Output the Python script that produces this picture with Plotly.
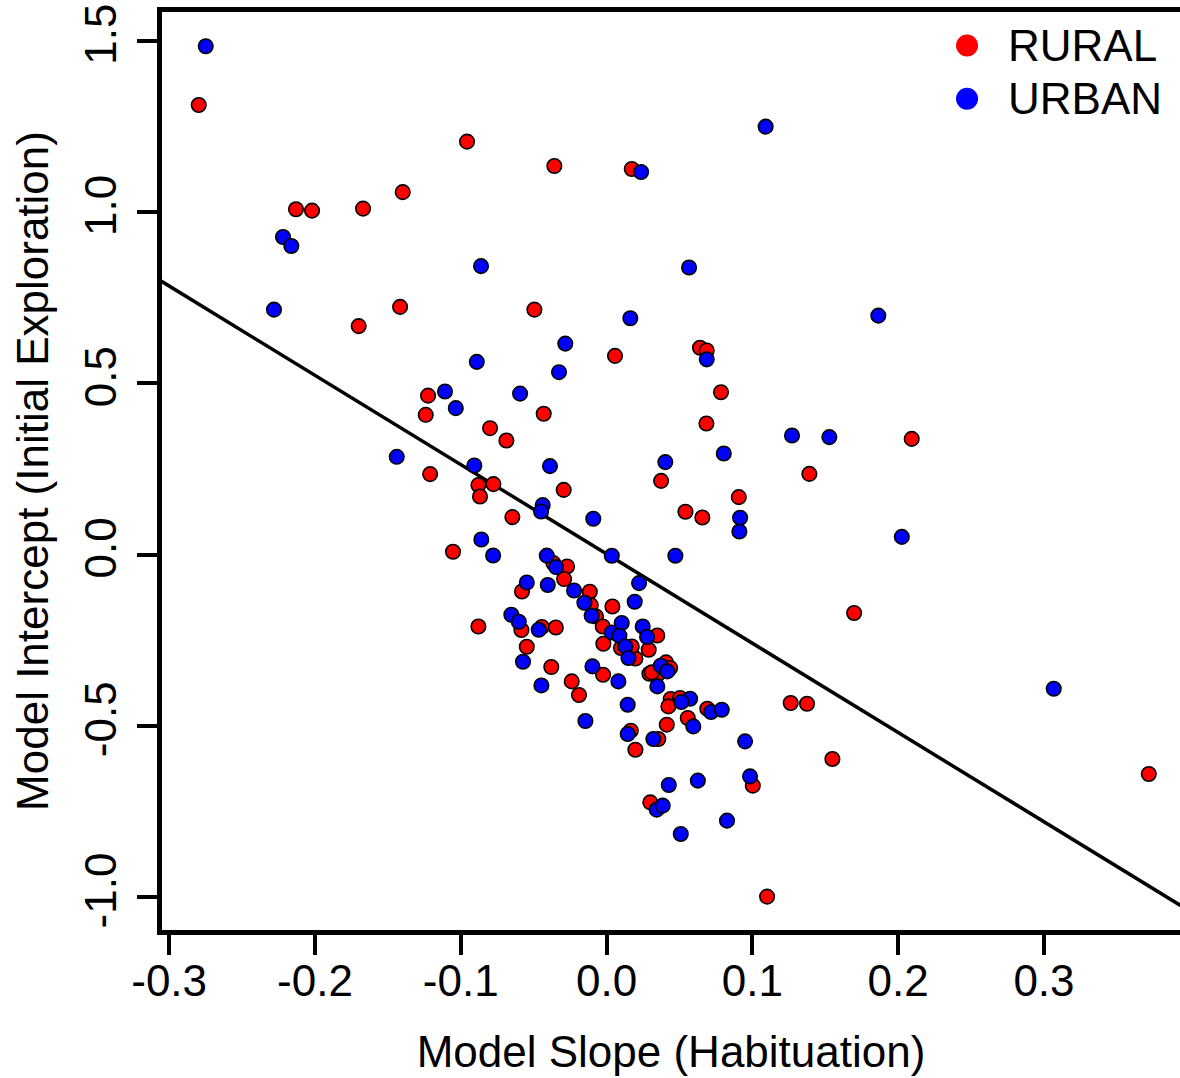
import plotly.graph_objects as go

# ---- data ----
rural_x = [-0.2797, -0.2130, -0.2020, -0.1670, -0.1398, -0.1416, -0.1700, -0.0957, -0.0358, 0.0173,
           -0.0495, 0.0058, 0.0641, 0.0687, 0.0785, -0.0431, 0.0685, -0.1224, -0.1240, -0.0799,
           -0.0687, -0.1210, -0.0879, -0.0776, -0.0868, -0.0294, -0.0646, -0.1053, 0.0374, 0.0907,
           0.0541, 0.0657, 0.2093, 0.1391, 0.1698, 0.1263, 0.1375, 0.1549, 0.3719, 0.1101,
           -0.0365, -0.0271, -0.0580, -0.0291, -0.0115, -0.0108, -0.0072, -0.0584, -0.0879, -0.0444,
           -0.0348, -0.0547, -0.0379, -0.0239, -0.0189, 0.0040, -0.0026, -0.0022, 0.0099, 0.0198,
           0.0348, 0.0289, -0.0024, 0.0294, 0.0344, 0.0408, 0.0436, 0.0310, 0.0440, 0.0504,
           0.0424, 0.0691, 0.0557, 0.0413, 0.0166, 0.0355, 0.0198, 0.1003, 0.0300, 0.0173]
rural_y = [1.3125, 1.008, 1.004, 1.010, 1.058, 0.723, 0.667, 1.2055, 1.1345, 1.1258,
           0.715, 0.580, 0.604, 0.596, 0.474, 0.411, 0.3826, 0.464, 0.408, 0.369,
           0.333, 0.2349, 0.2028, 0.2057, 0.1695, 0.189, 0.1094, 0.0082, 0.2153, 0.1677,
           0.1249, 0.1083, 0.3379, 0.2355, -0.1707, -0.4333, -0.4354, -0.5967, -0.6405, -0.9985,
           -0.0248, -0.0347, -0.1077, -0.0715, -0.1085, -0.1474, -0.1806, -0.2203, -0.2098, -0.2116,
           -0.2127, -0.2690, -0.3283, -0.3703, -0.4100, -0.1514, -0.2098, -0.2603, -0.2729, -0.3032,
           -0.2361, -0.2778, -0.3507, -0.3478, -0.3537, -0.3148, -0.3312, -0.3440, -0.4217, -0.4187,
           -0.4432, -0.4500, -0.4771, -0.4966, -0.5141, -0.5384, -0.5696, -0.6746, -0.7234, -0.2682]

urban_x = [-0.2749, -0.2219, -0.2162, -0.2281, 0.0237, 0.1091, -0.0861, 0.0566, 0.0163, -0.0283,
           0.0687, -0.0890, -0.0326, -0.1108, -0.1034, -0.0593, -0.1439, -0.0907, -0.0388, -0.0438,
           -0.0449, -0.0091, -0.0859, -0.0778, -0.0410, 0.0036, 0.0804, 0.0403, 0.0916, 0.0911,
           0.0472, 0.1864, 0.1272, 0.1528, 0.2025, 0.3067, -0.0346, -0.0547, -0.0403, -0.0223,
           -0.0152, -0.0102, -0.0653, -0.0602, -0.0465, -0.0573, -0.0447, -0.0097, 0.0193, 0.0223,
           0.0036, 0.0104, 0.0088, 0.0129, 0.0150, 0.0248, 0.0278, 0.0081, 0.0145, 0.0348,
           0.0372, 0.0417, 0.0573, 0.0513, 0.0717, 0.0790, 0.0595, 0.0145, 0.0321, 0.0950,
           0.0427, 0.0626, 0.0984, 0.0344, 0.0385, 0.0826, 0.0509, -0.0145]
urban_y = [1.484, 0.927, 0.901, 0.715, 1.117, 1.2493, 0.842, 0.838, 0.690, 0.616,
           0.570, 0.5626, 0.5325, 0.476, 0.4275, 0.470, 0.2854, 0.260, 0.2582, 0.1444,
           0.1258, 0.1045, 0.0441, -0.0026, -0.0030, -0.0035, 0.295, 0.270, 0.1074, 0.0674,
           -0.0035, 0.6977, 0.3478, 0.3429, 0.0516, -0.3916, -0.0365, -0.0814, -0.0890, -0.1048,
           -0.1406, -0.1786, -0.1757, -0.1961, -0.2194, -0.3128, -0.3820, -0.3265, -0.1377, -0.0832,
           -0.2273, -0.1999, -0.2369, -0.2682, -0.3020, -0.2098, -0.2407, -0.3703, -0.4383, -0.3849,
           -0.3245, -0.3411, -0.4208, -0.4304, -0.4596, -0.4529, -0.5016, -0.5238, -0.5384, -0.5453,
           -0.6726, -0.6600, -0.6475, -0.7447, -0.7330, -0.7768, -0.8156, -0.4858]

line_intercept = 0.002
line_slope = -2.607

x_ticks = [-0.3, -0.2, -0.1, 0.0, 0.1, 0.2, 0.3]
x_ticktext = ["-0.3", "-0.2", "-0.1", "0.0", "0.1", "0.2", "0.3"]
y_ticks = [-1.0, -0.5, 0.0, 0.5, 1.0, 1.5]
y_ticktext = ["-1.0", "-0.5", "0.0", "0.5", "1.0", "1.5"]

legend_labels = ["RURAL", "URBAN"]
legend_colors = ["#ff0000", "#0000ff"]

# ---- figure ----
X_RANGE = [-0.3049, 0.3933]
Y_RANGE = [-1.096, 1.584]
FONT = "Liberation Sans, Arial, Helvetica, sans-serif"
FS = 44

fig = go.Figure()

# regression line across the whole plotting region
lx = [X_RANGE[0] - 0.01, X_RANGE[1] + 0.01]
ly = [line_intercept + line_slope * v for v in lx]
fig.add_trace(go.Scatter(x=lx, y=ly, mode="lines",
                         line=dict(color="black", width=3.5), showlegend=False,
                         hoverinfo="skip"))

marker_line = dict(color="black", width=1.6)
fig.add_trace(go.Scatter(x=rural_x, y=rural_y, mode="markers", name="RURAL",
                         marker=dict(color=legend_colors[0], size=14.5, line=marker_line),
                         showlegend=False))
fig.add_trace(go.Scatter(x=urban_x, y=urban_y, mode="markers", name="URBAN",
                         marker=dict(color=legend_colors[1], size=14.5, line=marker_line),
                         showlegend=False))

# legend drawn as dots + text in the top-right corner
shapes = []
annotations = []
leg_dot_x = 0.7908
leg_text_x = 0.8290
leg_y = [0.9636, 0.9054]
for lab, col, yy in zip(legend_labels, legend_colors, leg_y):
    shapes.append(dict(type="circle", xref="paper", yref="paper",
                       xsizemode="pixel", ysizemode="pixel",
                       xanchor=leg_dot_x, yanchor=yy,
                       x0=-11, x1=11, y0=-11, y1=11,
                       fillcolor=col, line=dict(width=0)))
    annotations.append(dict(text=lab, xref="paper", yref="paper",
                            x=leg_text_x, y=yy, xanchor="left", yanchor="middle",
                            showarrow=False, font=dict(family=FONT, size=FS, color="black")))

axis_common = dict(showgrid=False, zeroline=False, showline=True, linecolor="black",
                   linewidth=4.5, ticks="outside", ticklen=20, tickwidth=3.5,
                   tickcolor="black", tickfont=dict(family=FONT, size=FS, color="black"))

fig.update_layout(
    width=1180, height=1078,
    margin=dict(l=162, r=0, t=12, b=148),
    paper_bgcolor="white", plot_bgcolor="white",
    font=dict(family=FONT, size=FS, color="black"),
    shapes=shapes, annotations=annotations,
    xaxis=dict(range=X_RANGE, tickvals=x_ticks, ticktext=x_ticktext, mirror=True,
               ticklabelstandoff=-12,
               title=dict(text="Model Slope (Habituation)", standoff=34,
                          font=dict(family=FONT, size=FS, color="black")),
               automargin=False, **axis_common),
    yaxis=dict(range=Y_RANGE, tickvals=y_ticks, ticktext=y_ticktext, tickangle=-90,
               mirror=False, ticklabelstandoff=4,
               title=dict(text="Model Intercept (Initial Exploration)", standoff=15,
                          font=dict(family=FONT, size=FS, color="black")),
               automargin=False, **axis_common),
    showlegend=False,
)

fig.write_html("out.html")
